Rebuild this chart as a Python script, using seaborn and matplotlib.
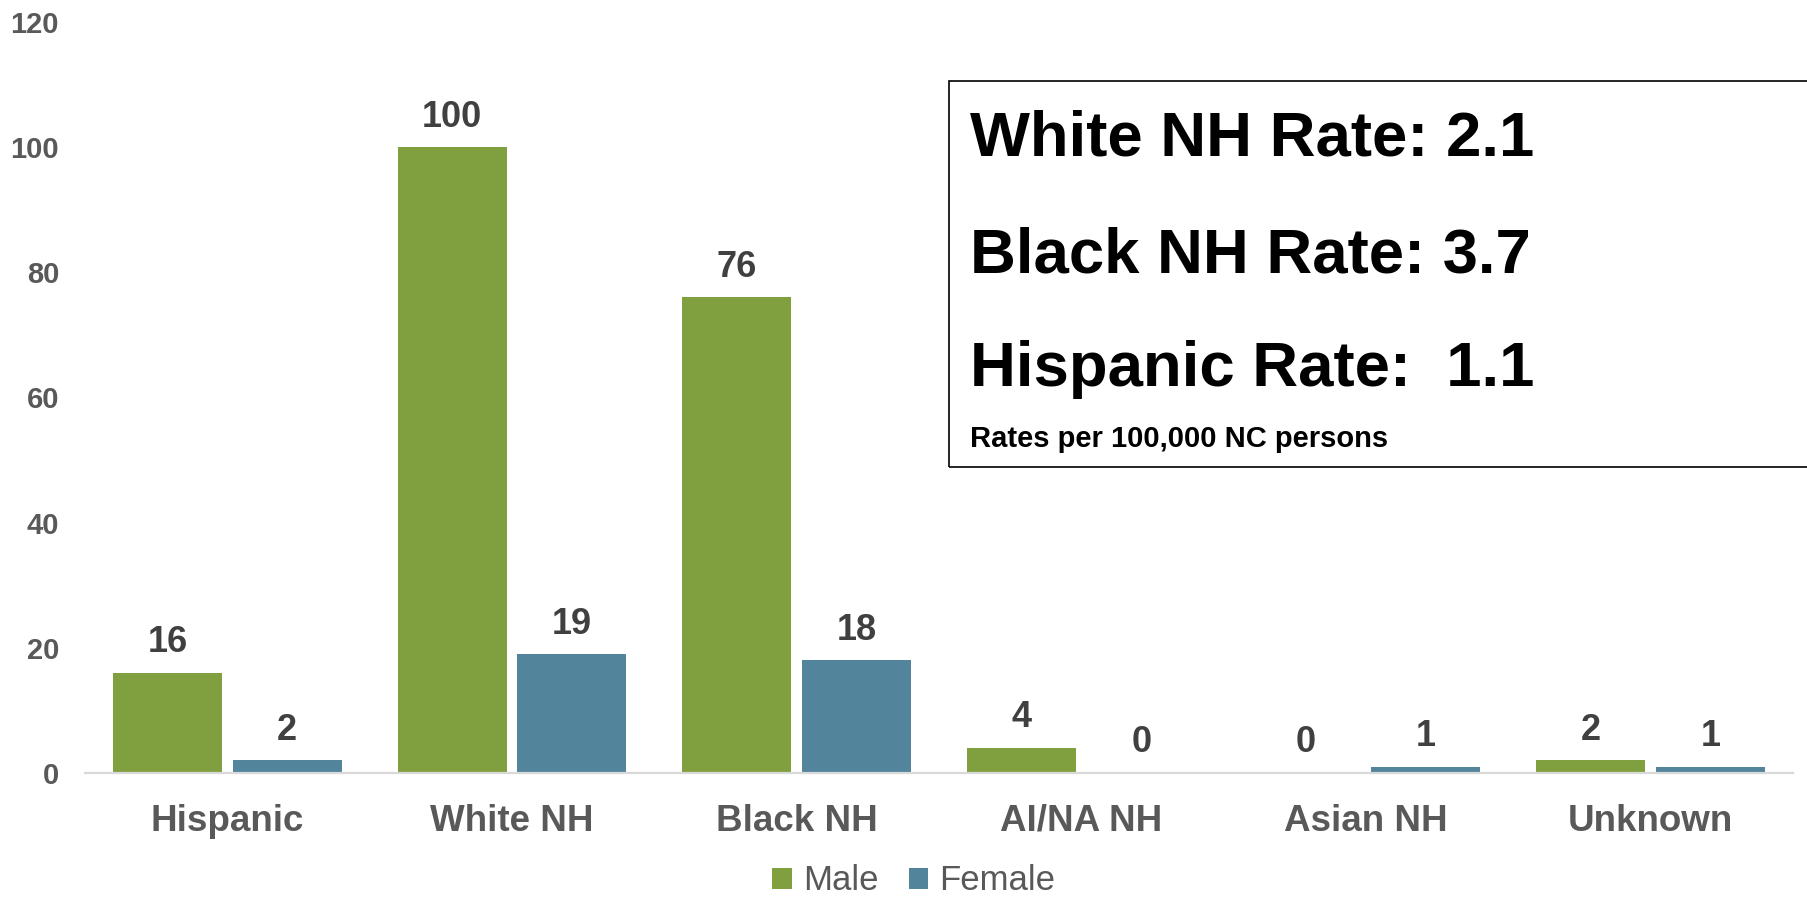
import matplotlib
matplotlib.use("Agg")
import matplotlib.pyplot as plt
from matplotlib.patches import Rectangle
import seaborn as sns
import pandas as pd

categories = ["Hispanic", "White NH", "Black NH", "AI/NA NH", "Asian NH", "Unknown"]
male = [16, 100, 76, 4, 0, 2]
female = [2, 19, 18, 0, 1, 1]
series_names = ["Male", "Female"]
y_ticks = [0, 20, 40, 60, 80, 100, 120]
box_lines = ["White NH Rate: 2.1", "Black NH Rate: 3.7", "Hispanic Rate:  1.1"]
box_note = "Rates per 100,000 NC persons"

GREEN = "#809F3F"
BLUE = "#52849C"

sns.set_theme(style="white")
plt.rcParams["font.family"] = ["Liberation Sans", "DejaVu Sans"]

df = pd.DataFrame({
    "Group": categories * 2,
    "Count": male + female,
    "Sex": [series_names[0]] * len(categories) + [series_names[1]] * len(categories),
})

W, H = 1807, 898
fig = plt.figure(figsize=(W / 100, H / 100), dpi=100)
ax = fig.add_axes([85 / W, 1 - 773 / H, (1793 - 85) / W, (773 - 22) / H])

sns.barplot(data=df, x="Group", y="Count", hue="Sex", order=categories,
            hue_order=series_names, palette=[GREEN, BLUE], width=0.842, gap=0.09,
            errorbar=None, saturation=1, ax=ax, linewidth=0)

ax.set_ylim(0, 120)
ax.set_xlim(-0.5, len(categories) - 0.5)
ax.set_yticks(y_ticks)
ax.set_yticklabels([str(t) for t in y_ticks], fontsize=21, fontweight="bold", color="#595959")
ax.set_xticks(range(len(categories)))
ax.set_xticklabels(categories, fontsize=26.5, fontweight="bold", color="#595959")
ax.tick_params(axis="y", length=0, pad=18.7)
ax.tick_params(axis="x", length=0, pad=22)
ax.set_xlabel("")
ax.set_ylabel("")
for s in ["left", "right", "top"]:
    ax.spines[s].set_visible(False)
ax.spines["bottom"].set_color("#D9D9D9")
ax.spines["bottom"].set_linewidth(1.6)
ax.grid(False)

for cont in ax.containers:
    ax.bar_label(cont, fmt="%d", padding=9, fontsize=26, fontweight="bold", color="#404040")

handles, labels = ax.get_legend_handles_labels()
if ax.get_legend() is not None:
    ax.get_legend().remove()
fig.legend(handles, labels, loc="center", bbox_to_anchor=(914 / W, 1 - 881 / H),
           ncol=2, frameon=False, fontsize=25, labelcolor="#595959",
           handlelength=0.55, handleheight=0.55, handletextpad=0.32,
           columnspacing=0.9, borderpad=0, borderaxespad=0)

# Rate box
box_top, box_bot = 81, 467
fig.add_artist(Rectangle((949 / W, 1 - box_bot / H), (1830 - 949) / W, (box_bot - box_top) / H,
                         transform=fig.transFigure, fill=False, edgecolor="black",
                         linewidth=1.2, clip_on=False))
for txt, yb in zip(box_lines, [155, 273, 386]):
    fig.text(970 / W, 1 - yb / H, txt, fontsize=45.7, fontweight="bold", color="black",
             ha="left", va="baseline")
fig.text(970 / W, 1 - 447 / H, box_note, fontsize=21, fontweight="bold", color="black",
         ha="left", va="baseline")

fig.savefig("out.png", dpi=100)
